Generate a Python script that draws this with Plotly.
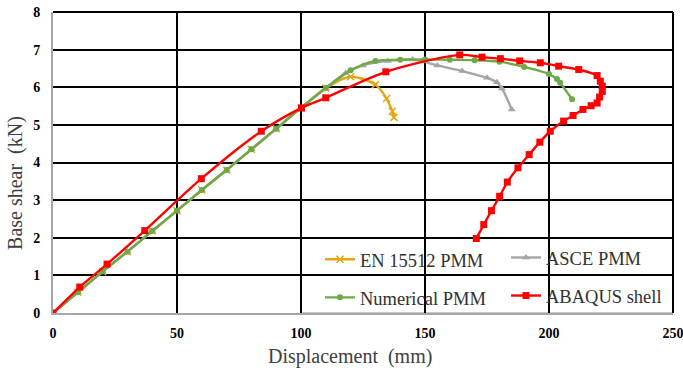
import plotly.graph_objects as go

# ---- data ----
en_x = [0, 10, 20, 30, 40, 50, 60, 70, 80, 90, 100, 110, 120, 130, 134.5, 136.8, 137.5]
en_y = [0, 0.55, 1.1, 1.63, 2.18, 2.72, 3.27, 3.8, 4.35, 4.9, 5.45, 5.98, 6.28, 6.07, 5.7, 5.36, 5.2]

asce_x = [0, 10, 20, 30, 40, 50, 60, 70, 80, 90, 100, 110, 118, 125, 135, 145, 155, 165, 175, 179, 181, 185]
asce_y = [0, 0.55, 1.1, 1.63, 2.18, 2.72, 3.27, 3.8, 4.35, 4.9, 5.45, 5.98, 6.38, 6.58, 6.7, 6.74, 6.58, 6.43, 6.25, 6.13, 5.97, 5.41]

num_x = [0, 10, 20, 30, 40, 50, 60, 70, 80, 90, 100, 110, 120, 130, 140, 150, 160, 170, 180, 190, 200, 203.2, 204.5, 209.3]
num_y = [0, 0.55, 1.1, 1.63, 2.18, 2.72, 3.27, 3.8, 4.35, 4.9, 5.45, 5.98, 6.45, 6.7, 6.73, 6.74, 6.73, 6.72, 6.68, 6.54, 6.35, 6.22, 6.12, 5.68]

aba_x = [0, 10.8, 21.8, 37, 59.8, 84, 100.2, 110, 134.2, 164, 173, 180.4, 188.2, 196.5, 203.9,
         212, 219.4, 220.7, 221.5, 221.5, 220.4, 219.4, 217, 213.7, 209.7, 205.9, 200.5,
         196.3, 192, 187.5, 183.2, 180.1, 176.8, 173.7, 170.7]
aba_y = [0, 0.69, 1.30, 2.19, 3.57, 4.83, 5.45, 5.72, 6.41, 6.86, 6.80, 6.76, 6.70, 6.65, 6.56,
         6.47, 6.31, 6.16, 6.03, 5.89, 5.74, 5.58, 5.51, 5.41, 5.25, 5.10, 4.83,
         4.54, 4.21, 3.86, 3.48, 3.10, 2.72, 2.35, 1.98]

x_ticks = [0, 50, 100, 150, 200, 250]
y_ticks = [0, 1, 2, 3, 4, 5, 6, 7, 8]

names = ["EN 15512 PMM", "ASCE PMM", "Numerical PMM", "ABAQUS shell"]

YELLOW = "#E3A60C"
GREY = "#A5A5A5"
GREEN = "#6FA846"
RED = "#FF0000"

SERIF = "Liberation Serif"

fig = go.Figure()

fig.add_trace(go.Scatter(
    x=en_x, y=en_y, name=names[0], mode="lines+markers",
    line=dict(color=YELLOW, width=2.4, shape="spline", smoothing=0.8),
    marker=dict(symbol="x-thin", size=7, color=YELLOW, line=dict(color=YELLOW, width=1.5)),
    legend="legend", legendgroup="a"))
fig.add_trace(go.Scatter(
    x=asce_x, y=asce_y, name=names[1], mode="lines+markers",
    line=dict(color=GREY, width=2.4, shape="spline", smoothing=0.8),
    marker=dict(symbol="triangle-up", size=7, color=GREY),
    legend="legend2", legendgroup="b"))
fig.add_trace(go.Scatter(
    x=num_x, y=num_y, name=names[2], mode="lines+markers",
    line=dict(color=GREEN, width=2.4, shape="spline", smoothing=0.8),
    marker=dict(symbol="circle", size=6, color=GREEN),
    legend="legend", legendgroup="c"))
fig.add_trace(go.Scatter(
    x=aba_x, y=aba_y, name=names[3], mode="lines+markers",
    line=dict(color=RED, width=2.4, shape="spline", smoothing=0.8),
    marker=dict(symbol="square", size=7, color=RED),
    legend="legend2", legendgroup="d"))

tickfont = dict(family=SERIF, size=14, color="black", weight="bold")
axis_common = dict(
    showgrid=True, gridcolor="black", gridwidth=2,
    showline=True, linecolor="#A6A6A6", linewidth=2,
    zeroline=False, ticks="", tickfont=tickfont, automargin=False,
    ticklabeloverflow="allow",
)

legend_font = dict(family=SERIF, size=18.5, color="#303030")

fig.update_layout(
    width=683, height=371,
    margin=dict(l=53, r=10, t=12, b=58),
    plot_bgcolor="white", paper_bgcolor="white",
    xaxis=dict(range=[0, 250], tickvals=x_ticks, ticklabelstandoff=6, **axis_common),
    yaxis=dict(range=[0, 8], tickvals=y_ticks, ticklabelstandoff=8, **axis_common),
    legend=dict(x=0.4306, y=0.240, xanchor="left", yanchor="top",
                bgcolor="rgba(0,0,0,0)", borderwidth=0, tracegroupgap=11,
                font=legend_font),
    legend2=dict(x=0.7306, y=0.246, xanchor="left", yanchor="top",
                 bgcolor="rgba(0,0,0,0)", borderwidth=0, tracegroupgap=11,
                 font=legend_font),
    shapes=[
        dict(type="rect", xref="paper", yref="paper", x0=0.4, x1=1.0, y0=0, y1=0.25,
             fillcolor="white", line=dict(color="#8C8C8C", width=1), layer="between"),
        dict(type="line", xref="paper", yref="paper", x0=0, x1=1, y0=1, y1=1,
             line=dict(color="black", width=2), layer="below"),
        dict(type="line", xref="paper", yref="paper", x0=1, x1=1, y0=0, y1=1,
             line=dict(color="black", width=2), layer="below"),
    ],
    annotations=[
        dict(text="Displacement  (mm)", xref="paper", yref="paper", x=0.479, y=-0.146,
             showarrow=False, xanchor="center", yanchor="middle",
             font=dict(family=SERIF, size=20, color="#404040")),
        dict(text="Base shear  (kN)", xref="paper", yref="paper", x=-0.0597, y=0.432,
             showarrow=False, xanchor="center", yanchor="middle", textangle=-90,
             font=dict(family=SERIF, size=20, color="#404040")),
    ],
)

fig.write_html("out.html", config={"displayModeBar": False},
               post_script="document.body.style.margin='0';document.body.style.overflow='hidden';")
